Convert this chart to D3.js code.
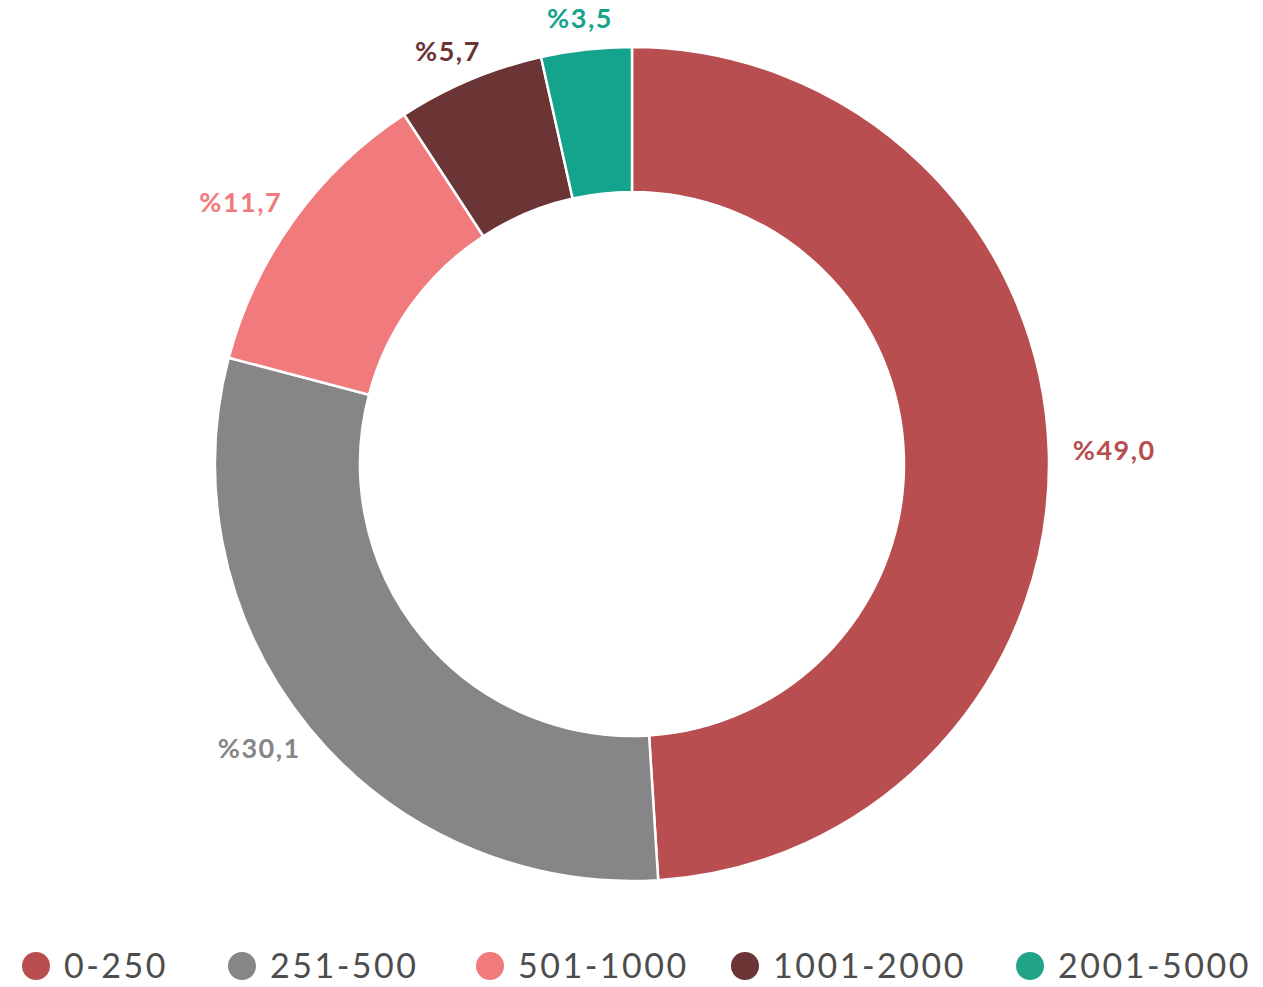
<!DOCTYPE html>
<html>
<head>
<meta charset="utf-8">
<script src="https://cdn.jsdelivr.net/npm/d3@7"></script>
<style>
  body { margin: 0; background: #fff; }
  text { font-family: Lato, "Open Sans", sans-serif; }
</style>
</head>
<body>
<script>
categories = ['0-250', '251-500', '501-1000', '1001-2000', '2001-5000']
values = [49.0, 30.1, 11.7, 5.7, 3.5]
labels = ['%49,0', '%30,1', '%11,7', '%5,7', '%3,5']
colors = ['#b94e50', '#868688', '#f07a7c', '#6b3536', '#14a38c']

var width = 1263, height = 987
var cx = 632, cy = 464
var outerR = 417, innerR = 272

var svg = d3.select('body')
  .append('svg')
  .attr('width', width)
  .attr('height', height)

var g = svg.append('g')
  .attr('transform', 'translate(' + cx + ',' + cy + ')')

var pie = d3.pie().sort(null).value(function (d) { return d })
var arcs = pie(values)

var arc = d3.arc().innerRadius(innerR).outerRadius(outerR)

//slices
g.selectAll('.slice')
  .data(arcs)
  .enter().append('path')
  .attr('class', 'slice')
  .attr('d', arc)
  .attr('fill', function (d, i) { return colors[i] })
  .attr('stroke', '#fff')
  .attr('stroke-width', 2.5)

//labels outside the ring, box pushed out along the mid angle
var labelR = outerR + 24
var lbl = g.selectAll('.lbl')
  .data(arcs)
  .enter().append('text')
  .attr('class', 'lbl')
  .attr('text-anchor', 'middle')
  .attr('dy', '0.36em')
  .style('font-size', '27px')
  .style('font-weight', 'bold')
  .style('letter-spacing', '1.5px')
  .attr('fill', function (d, i) { return colors[i] })
  .text(function (d, i) { return labels[i] })

lbl.attr('transform', function (d) {
  var a = (d.startAngle + d.endAngle) / 2
  var s = Math.sin(a), c = -Math.cos(a)
  var w = this.getComputedTextLength()
  var x = labelR * s + s * w / 2
  var y = labelR * c + c * 7
  return 'translate(' + x + ',' + y + ')'
})

//legend
var legendOffsets = [0, 206, 454, 709, 994]
var legend = svg.append('g').attr('transform', 'translate(0,966)')
var item = legend.selectAll('.leg')
  .data(categories)
  .enter().append('g')
  .attr('class', 'leg')
  .attr('transform', function (d, i) { return 'translate(' + (36 + legendOffsets[i]) + ',0)' })

item.append('circle')
  .attr('r', 14)
  .attr('fill', function (d, i) { return i == 4 ? '#21a388' : colors[i] })

item.append('text')
  .attr('x', 28)
  .attr('dy', '0.36em')
  .style('font-size', '34px')
  .style('letter-spacing', '2.5px')
  .attr('fill', '#4d4d4d')
  .text(function (d) { return d })
</script>
</body>
</html>
